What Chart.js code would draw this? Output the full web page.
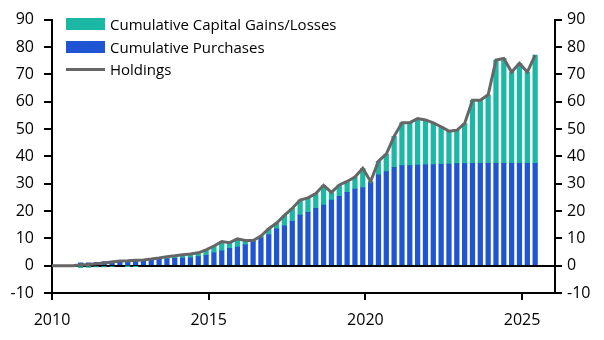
<!DOCTYPE html>
<html>
<head>
<meta charset="utf-8">
<script src="https://cdn.jsdelivr.net/npm/chart.js@4/dist/chart.umd.min.js"></script>
<style>
  html, body { margin: 0; padding: 0; background: #fff; }
  #wrap { position: relative; width: 604px; height: 340px; }
  canvas { display: block; }
  #legend { position: absolute; left: 66px; top: 13px; font-family: 'Open Sans', sans-serif; font-size: 15px; color: #000; }
  #legend .item { display: flex; align-items: center; height: 22.5px; white-space: nowrap; }
  #legend .sw { display: inline-block; width: 39px; margin-right: 5px; }
</style>
</head>
<body>
<div id="wrap">
  <canvas id="chart" width="604" height="340"></canvas>
  <div id="legend"></div>
</div>
<script>
// Quarterly observations
const quarters = [
  '2009 Q4',
  '2010 Q1', '2010 Q2', '2010 Q3', '2010 Q4',
  '2011 Q1', '2011 Q2', '2011 Q3', '2011 Q4',
  '2012 Q1', '2012 Q2', '2012 Q3', '2012 Q4',
  '2013 Q1', '2013 Q2', '2013 Q3', '2013 Q4',
  '2014 Q1', '2014 Q2', '2014 Q3', '2014 Q4',
  '2015 Q1', '2015 Q2', '2015 Q3', '2015 Q4',
  '2016 Q1', '2016 Q2', '2016 Q3', '2016 Q4',
  '2017 Q1', '2017 Q2', '2017 Q3', '2017 Q4',
  '2018 Q1', '2018 Q2', '2018 Q3', '2018 Q4',
  '2019 Q1', '2019 Q2', '2019 Q3', '2019 Q4',
  '2020 Q1', '2020 Q2', '2020 Q3', '2020 Q4',
  '2021 Q1', '2021 Q2', '2021 Q3', '2021 Q4',
  '2022 Q1', '2022 Q2', '2022 Q3', '2022 Q4',
  '2023 Q1', '2023 Q2', '2023 Q3', '2023 Q4',
  '2024 Q1', '2024 Q2', '2024 Q3', '2024 Q4',
  '2025 Q1', '2025 Q2'
];

const purchases = [
  0,
  0, 0, 0, 1.0,
  1.0, 1.2, 1.5, 1.7,
  1.4, 1.9, 2.2, 2.1,
  2.1, 2.3, 2.5, 2.7,
  2.8, 2.9, 3.3, 3.8,
  4.8, 5.4, 6.3, 6.8,
  7.6, 8.8, 10.2, 11.4,
  13.5, 14.6, 16.2, 18.5,
  19.5, 21.0, 22.2, 24.0,
  25.4, 26.8, 28.0, 28.6,
  30.3, 33.2, 34.4, 36.0,
  36.6, 36.6, 36.8, 37.0,
  37.0, 37.1, 37.2, 37.3,
  37.3, 37.4, 37.4, 37.4,
  37.4, 37.4, 37.4, 37.4,
  37.4, 37.4
];

const gains = [
  0,
  0, 0, 0, -0.7,
  -0.6, -0.5, -0.5, -0.4,
  0.3, -0.1, -0.2, 0.0,
  0.3, 0.5, 0.8, 0.9,
  1.2, 1.4, 1.4, 2.0,
  2.4, 3.4, 2.1, 3.0,
  1.6, 0.4, 0.6, 2.1,
  2.1, 3.8, 4.8, 5.5,
  5.3, 5.4, 7.2, 2.8,
  4.1, 4.0, 4.4, 7.0,
  0.5, 5.0, 6.4, 11.3,
  15.7, 15.7, 17.0, 16.3,
  15.2, 13.7, 12.0, 12.2,
  14.7, 23.1, 23.1, 25.1,
  37.8, 38.4, 33.4, 36.6,
  33.4, 39.6
];

const holdings = [
  0,
  0, 0, 0, 0.3,
  0.4, 0.7, 1.0, 1.3,
  1.7, 1.8, 2.0, 2.1,
  2.4, 2.8, 3.3, 3.6,
  4.0, 4.3, 4.7, 5.8,
  7.2, 8.8, 8.4, 9.8,
  9.2, 9.2, 10.8, 13.5,
  15.6, 18.4, 21.0, 24.0,
  24.8, 26.4, 29.4, 26.8,
  29.5, 30.8, 32.4, 35.6,
  30.8, 38.2, 40.8, 47.3,
  52.3, 52.3, 53.8, 53.3,
  52.2, 50.8, 49.2, 49.5,
  52.0, 60.5, 60.5, 62.5,
  75.2, 75.8, 70.8, 74.0,
  70.8, 77.0
];

const yearTicks = [2010, 2015, 2020, 2025];
const valueTicks = [-10, 0, 10, 20, 30, 40, 50, 60, 70, 80, 90];

const TEAL = '#1bb8a5';
const BLUE = '#1f55d3';
const GREY = '#666666';

// A quarter is placed at the start of its final month
const quarterPos = q => {
  const [y, n] = q.split(' Q');
  return Number(y) + (3 * Number(n) - 1) / 12;
};
const xs = quarters.map(quarterPos);
const series = arr => arr.map((v, i) => ({ x: xs[i], y: v }));

const legendOrder = ['Cumulative Capital Gains/Losses', 'Cumulative Purchases', 'Holdings'];

const htmlLegend = {
  id: 'htmlLegend',
  afterUpdate(chart) {
    const box = document.getElementById('legend');
    box.innerHTML = '';
    const sets = chart.data.datasets.slice().sort(
      (a, b) => legendOrder.indexOf(a.label) - legendOrder.indexOf(b.label));
    sets.forEach(ds => {
      const item = document.createElement('div');
      item.className = 'item';
      const sw = document.createElement('span');
      sw.className = 'sw';
      if (ds.type === 'line') {
        sw.style.height = '3px';
        sw.style.background = ds.borderColor;
      } else {
        sw.style.height = '12px';
        sw.style.background = ds.backgroundColor;
      }
      const txt = document.createElement('span');
      txt.textContent = ds.label;
      item.appendChild(sw);
      item.appendChild(txt);
      box.appendChild(item);
    });
  }
};

Chart.defaults.font.family = "'Open Sans', sans-serif";
Chart.defaults.font.size = 16;
Chart.defaults.color = '#000';

const axisGrid = {
  display: true,
  offset: false,
  drawOnChartArea: false,
  drawTicks: true,
  tickLength: 7,
  tickColor: '#000',
  tickWidth: 2,
  lineWidth: 2,
  color: '#000'
};

const valueTicksHook = axis => { axis.ticks = valueTicks.map(v => ({ value: v })); };

new Chart(document.getElementById('chart'), {
  type: 'bar',
  data: {
    datasets: [
      {
        type: 'line',
        label: 'Holdings',
        data: series(holdings),
        borderColor: GREY,
        backgroundColor: GREY,
        borderWidth: 3,
        pointRadius: 0,
        tension: 0,
        order: 0
      },
      {
        label: 'Cumulative Purchases',
        data: series(purchases),
        backgroundColor: BLUE,
        stack: 'flows',
        order: 1
      },
      {
        label: 'Cumulative Capital Gains/Losses',
        data: series(gains),
        backgroundColor: TEAL,
        stack: 'flows',
        order: 1
      }
    ]
  },
  options: {
    responsive: false,
    animation: false,
    layout: { padding: { top: 15, left: 0, right: 0, bottom: 0 } },
    datasets: { bar: { barThickness: 4.6, borderWidth: 0 } },
    plugins: { legend: { display: false }, tooltip: { enabled: false } },
    scales: {
      x: {
        type: 'linear',
        offset: false,
        min: 2010,
        max: 2026.05,
        stacked: true,
        afterBuildTicks: axis => { axis.ticks = yearTicks.map(v => ({ value: v })); },
        afterFit: axis => { axis.height = 47; },
        ticks: { padding: 11, maxRotation: 0, callback: v => String(v) },
        grid: axisGrid,
        border: { display: true, color: '#000', width: 2 }
      },
      y: {
        position: 'left',
        min: -10,
        max: 90,
        stacked: true,
        afterBuildTicks: valueTicksHook,
        afterFit: axis => { axis.width = 52; },
        ticks: { padding: 10 },
        grid: {
          display: true,
          offset: false,
          drawOnChartArea: true,
          drawTicks: true,
          tickLength: 8,
          tickColor: '#000',
          tickWidth: 2,
          lineWidth: 2,
          color: c => (c.tick && c.tick.value === 0 ? '#000' : 'rgba(0,0,0,0)')
        },
        border: { display: true, color: '#000', width: 2 }
      },
      y2: {
        position: 'right',
        min: -10,
        max: 90,
        afterBuildTicks: valueTicksHook,
        afterFit: axis => { axis.width = 49; },
        ticks: { padding: 5 },
        grid: axisGrid,
        border: { display: true, color: '#000', width: 2 }
      }
    }
  },
  plugins: [htmlLegend]
});
</script>
</body>
</html>
